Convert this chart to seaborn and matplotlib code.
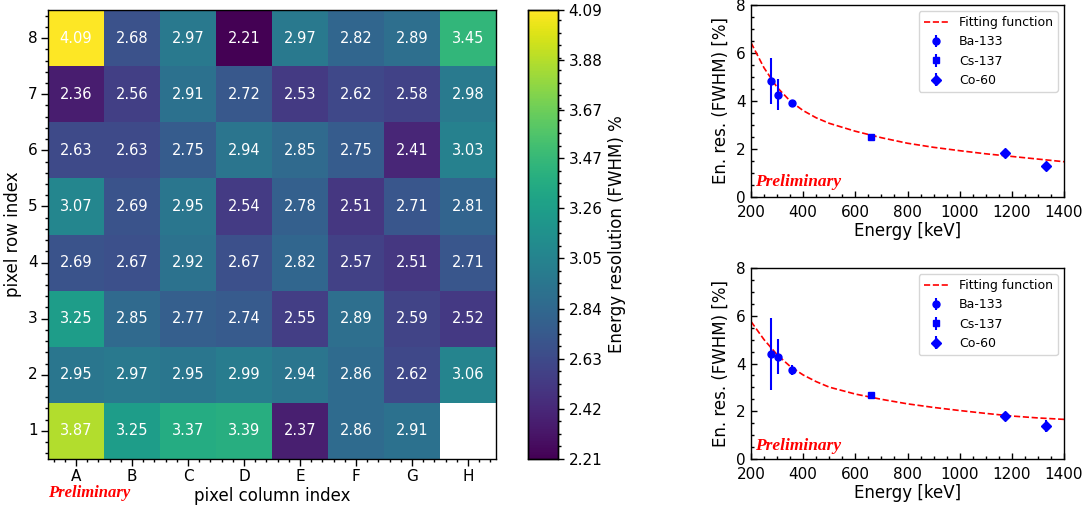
import numpy as np
import pandas as pd
import matplotlib
matplotlib.use("Agg")
import matplotlib.pyplot as plt
from matplotlib.ticker import AutoMinorLocator, MultipleLocator
import seaborn as sns

# ---------------- data ----------------
columns = ["A", "B", "C", "D", "E", "F", "G", "H"]
rows = ["8", "7", "6", "5", "4", "3", "2", "1"]
row8 = [4.09, 2.68, 2.97, 2.21, 2.97, 2.82, 2.89, 3.45]
row7 = [2.36, 2.56, 2.91, 2.72, 2.53, 2.62, 2.58, 2.98]
row6 = [2.63, 2.63, 2.75, 2.94, 2.85, 2.75, 2.41, 3.03]
row5 = [3.07, 2.69, 2.95, 2.54, 2.78, 2.51, 2.71, 2.81]
row4 = [2.69, 2.67, 2.92, 2.67, 2.82, 2.57, 2.51, 2.71]
row3 = [3.25, 2.85, 2.77, 2.74, 2.55, 2.89, 2.59, 2.52]
row2 = [2.95, 2.97, 2.95, 2.99, 2.94, 2.86, 2.62, 3.06]
row1 = [3.87, 3.25, 3.37, 3.39, 2.37, 2.86, 2.91, np.nan]
cbar_ticks = [2.21, 2.42, 2.63, 2.84, 3.05, 3.26, 3.47, 3.67, 3.88, 4.09]
cbar_labels = ["2.21", "2.42", "2.63", "2.84", "3.05", "3.26", "3.47", "3.67", "3.88", "4.09"]

# energies [keV]
e_ba = [276.4, 302.9, 356.0]
e_cs = [661.7]
e_co = [1173.2, 1332.5]

# top panel
top_ba = [4.85, 4.27, 3.93]
top_ba_err = [0.96, 0.63, 0.12]
top_cs = [2.52]
top_cs_err = [0.08]
top_co = [1.85, 1.30]
top_co_err = [0.12, 0.10]
top_fit_e = [200, 250, 300, 350, 400, 450, 500, 600, 700, 800, 900, 1000, 1100, 1200, 1300, 1400]
top_fit_v = [6.43, 5.38, 4.57, 4.00, 3.60, 3.30, 3.07, 2.74, 2.47, 2.24, 2.07, 1.93, 1.80, 1.69, 1.58, 1.47]

# bottom panel
bot_ba = [4.39, 4.29, 3.72]
bot_ba_err = [1.50, 0.72, 0.20]
bot_cs = [2.70]
bot_cs_err = [0.08]
bot_co = [1.82, 1.38]
bot_co_err = [0.12, 0.25]
bot_fit_e = [200, 250, 300, 350, 400, 450, 500, 600, 700, 800, 900, 1000, 1100, 1200, 1300, 1400]
bot_fit_v = [5.76, 5.00, 4.37, 3.88, 3.52, 3.24, 3.01, 2.72, 2.50, 2.31, 2.16, 2.03, 1.91, 1.80, 1.72, 1.66]

# ---------------- figure ----------------
W, H = 1090, 509
fig = plt.figure(figsize=(W / 100, H / 100), dpi=100)

def fx(x0, x1, y0, y1):
    return [x0 / W, 1 - y1 / H, (x1 - x0) / W, (y1 - y0) / H]

ax_h = fig.add_axes(fx(48, 496, 10, 459))
ax_cb = fig.add_axes(fx(528, 558, 10, 459))
ax_t = fig.add_axes(fx(751, 1064, 5, 197))
ax_b = fig.add_axes(fx(751, 1064, 268, 459))

df = pd.DataFrame([row8, row7, row6, row5, row4, row3, row2, row1], index=rows, columns=columns)
sns.heatmap(df, ax=ax_h, cbar_ax=ax_cb, cmap="viridis", vmin=2.21, vmax=4.09,
            annot=True, fmt=".2f", annot_kws={"color": "white", "fontsize": 10.5},
            cbar_kws={"label": "Energy resolution (FWHM) %"})
for t in ax_h.texts:
    t.set_color("white")
ax_h.set_xticklabels(columns, rotation=0, fontsize=11)
ax_h.set_yticklabels(rows, rotation=0, fontsize=11)
ax_h.set_xlabel("pixel column index", fontsize=12, labelpad=2)
ax_h.set_ylabel("pixel row index", fontsize=12)
ax_h.xaxis.set_minor_locator(AutoMinorLocator(5))
ax_h.yaxis.set_minor_locator(AutoMinorLocator(5))
ax_h.tick_params(which="major", direction="out", length=5, width=1, pad=2.5)
ax_h.tick_params(which="minor", direction="out", length=2.5, width=1)
for s in ax_h.spines.values():
    s.set_visible(True)
    s.set_color("black")
    s.set_linewidth(1.0)

ax_cb.set_yticks(cbar_ticks)
ax_cb.set_yticklabels(cbar_labels, fontsize=11)
ax_cb.yaxis.set_minor_locator(AutoMinorLocator(4))
ax_cb.tick_params(which="major", direction="out", length=4, width=1)
ax_cb.tick_params(which="minor", direction="out", length=2.5, width=1)
ax_cb.yaxis.label.set_size(12)
for s in ax_cb.spines.values():
    s.set_visible(True)
    s.set_color("black")
    s.set_linewidth(1.0)

fig.text(48 / W, 1 - 493 / H, "Preliminary", color="red", fontsize=12,
         family="Liberation Serif", weight="bold", style="italic", ha="left", va="center")

def panel(ax, fit_e, fit_v, ba, ba_err, cs, cs_err, co, co_err, prelim_y):
    sns.lineplot(x=fit_e, y=fit_v, ax=ax, color="red", linestyle="--", linewidth=1.2,
                 label="Fitting function")
    ax.errorbar(e_ba, ba, yerr=ba_err, fmt="o", color="blue", markersize=5,
                elinewidth=1.5, label="Ba-133")
    ax.errorbar(e_cs, cs, yerr=cs_err, fmt="s", color="blue", markersize=5,
                elinewidth=1.5, label="Cs-137")
    ax.errorbar(e_co, co, yerr=co_err, fmt="D", color="blue", markersize=5,
                elinewidth=1.5, label="Co-60")
    ax.set_xlim(200, 1400)
    ax.set_ylim(0, 8)
    ax.xaxis.set_major_locator(MultipleLocator(200))
    ax.xaxis.set_minor_locator(MultipleLocator(50))
    ax.yaxis.set_major_locator(MultipleLocator(2))
    ax.yaxis.set_minor_locator(MultipleLocator(0.5))
    ax.tick_params(which="major", direction="in", length=4.5, width=1, labelsize=11)
    ax.tick_params(axis="y", which="major", pad=4)
    ax.tick_params(axis="x", which="major", pad=6)
    ax.tick_params(which="minor", direction="in", length=2.5, width=1)
    ax.set_xlabel("Energy [keV]", fontsize=12, labelpad=1)
    ax.set_ylabel("En. res. (FWHM) [%]", fontsize=12)
    for s in ax.spines.values():
        s.set_color("black")
        s.set_linewidth(1.0)
    ax.legend(loc="upper right", fontsize=9)
    ax.text(0.013, prelim_y, "Preliminary", transform=ax.transAxes, color="red",
            fontsize=12.5, family="Liberation Serif", weight="bold", style="italic",
            ha="left", va="center")

panel(ax_t, top_fit_e, top_fit_v, top_ba, top_ba_err, top_cs, top_cs_err,
      top_co, top_co_err, 0.078)
panel(ax_b, bot_fit_e, bot_fit_v, bot_ba, bot_ba_err, bot_cs, bot_cs_err,
      bot_co, bot_co_err, 0.068)

fig.savefig("out.png", dpi=100)
